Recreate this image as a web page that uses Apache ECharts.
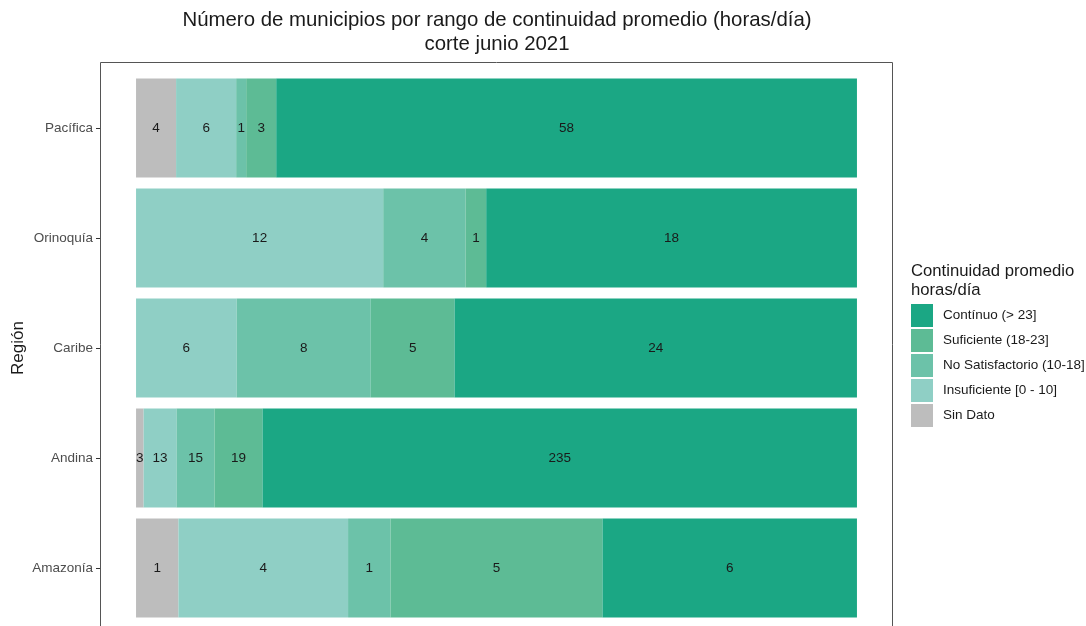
<!DOCTYPE html>
<html lang="es">
<head>
    <meta charset="UTF-8">
    <title>Continuidad promedio</title>
    <script src="https://cdn.jsdelivr.net/npm/echarts@6/dist/echarts.min.js"></script>
    <style>
        html, body { margin: 0; padding: 0; background: #fff; }
    </style>
</head>
<body>
<div id="chart" style="width:1086px;height:626px"></div>
<script type="text/javascript">
    // regiones, de abajo hacia arriba
    var regiones = ['Amazonía', 'Andina', 'Caribe', 'Orinoquía', 'Pacífica'];
    // número de municipios por rango
    var sinDato       = [1, 3, 0, 0, 4];
    var insuficiente  = [4, 13, 6, 12, 6];
    var noSatisfact   = [1, 15, 8, 4, 1];
    var suficiente    = [5, 19, 5, 1, 3];
    var continuo      = [6, 235, 24, 18, 58];

    var rangos = [
        {name: 'Sin Dato', data: sinDato, color: '#bdbdbd'},
        {name: 'Insuficiente [0 - 10]', data: insuficiente, color: '#8fcfc5'},
        {name: 'No Satisfactorio (10-18]', data: noSatisfact, color: '#6cc2a9'},
        {name: 'Suficiente (18-23]', data: suficiente, color: '#5dbb95'},
        {name: 'Contínuo (> 23]', data: continuo, color: '#1ba784'}
    ];

    var totales = regiones.map(function (r, i) {
        var t = 0;
        rangos.forEach(function (s) { t += s.data[i]; });
        return t;
    });

    var font = 'Liberation Sans, Arial, sans-serif';

    var series = rangos.map(function (s) {
        return {
            name: s.name,
            type: 'bar',
            stack: 'total',
            barWidth: '90%',
            itemStyle: {color: s.color},
            label: {
                show: true,
                position: 'inside',
                color: '#1a1a1a',
                fontSize: 13.5,
                fontFamily: font,
                formatter: function (p) {
                    var n = s.data[p.dataIndex];
                    return n > 0 ? String(n) : '';
                }
            },
            data: s.data.map(function (v, i) { return v / totales[i] * 100; })
        };
    });

    var chart = echarts.init(document.getElementById('chart'));
    var option = {
        animation: false,
        textStyle: {fontFamily: font},
        title: [
            {
                text: 'Número de municipios por rango de continuidad promedio (horas/día)\ncorte junio 2021',
                left: 497, top: 8, textAlign: 'center', padding: 0,
                textStyle: {fontSize: 20.4, fontWeight: 'normal', color: '#1a1a1a', lineHeight: 24, fontFamily: font}
            },
            {
                text: 'Continuidad promedio\nhoras/día',
                left: 911, top: 262, padding: 0,
                textStyle: {fontSize: 16.7, fontWeight: 'normal', color: '#1a1a1a', lineHeight: 19, fontFamily: font}
            }
        ],
        legend: {
            orient: 'vertical',
            left: 911, top: 304, padding: 0,
            itemWidth: 22, itemHeight: 23, itemGap: 2,
            icon: 'rect',
            textStyle: {fontSize: 13.5, color: '#1a1a1a', fontFamily: font, padding: [0, 0, 0, 5]},
            data: ['Contínuo (> 23]', 'Suficiente (18-23]', 'No Satisfactorio (10-18]', 'Insuficiente [0 - 10]', 'Sin Dato']
        },
        grid: {left: 100, right: 193, top: 73, bottom: 3, outerBoundsMode: 'none'},
        xAxis: {type: 'value', min: -5, max: 105, show: false},
        yAxis: {
            type: 'category',
            position: 'left',
            data: regiones,
            axisLine: {show: false, onZero: false},
            axisTick: {show: true, inside: false, alignWithLabel: true, length: 4, lineStyle: {color: '#333'}},
            axisLabel: {fontSize: 13.5, color: '#4d4d4d', margin: 7, fontFamily: font},
            splitLine: {show: false}
        },
        graphic: [
            {
                type: 'rect',
                shape: {x: 100.5, y: 62.5, width: 792, height: 600},
                style: {fill: 'none', stroke: '#555', lineWidth: 1},
                silent: true
            },
            {
                // titulo del eje y
                type: 'text',
                x: 18, y: 348,
                rotation: Math.PI / 2,
                style: {
                    text: 'Región',
                    fontSize: 17,
                    fontFamily: font,
                    fill: '#1a1a1a',
                    align: 'center',
                    verticalAlign: 'middle'
                },
                silent: true
            }
        ],
        series: series
    };
    chart.setOption(option);
</script>
</body>
</html>
